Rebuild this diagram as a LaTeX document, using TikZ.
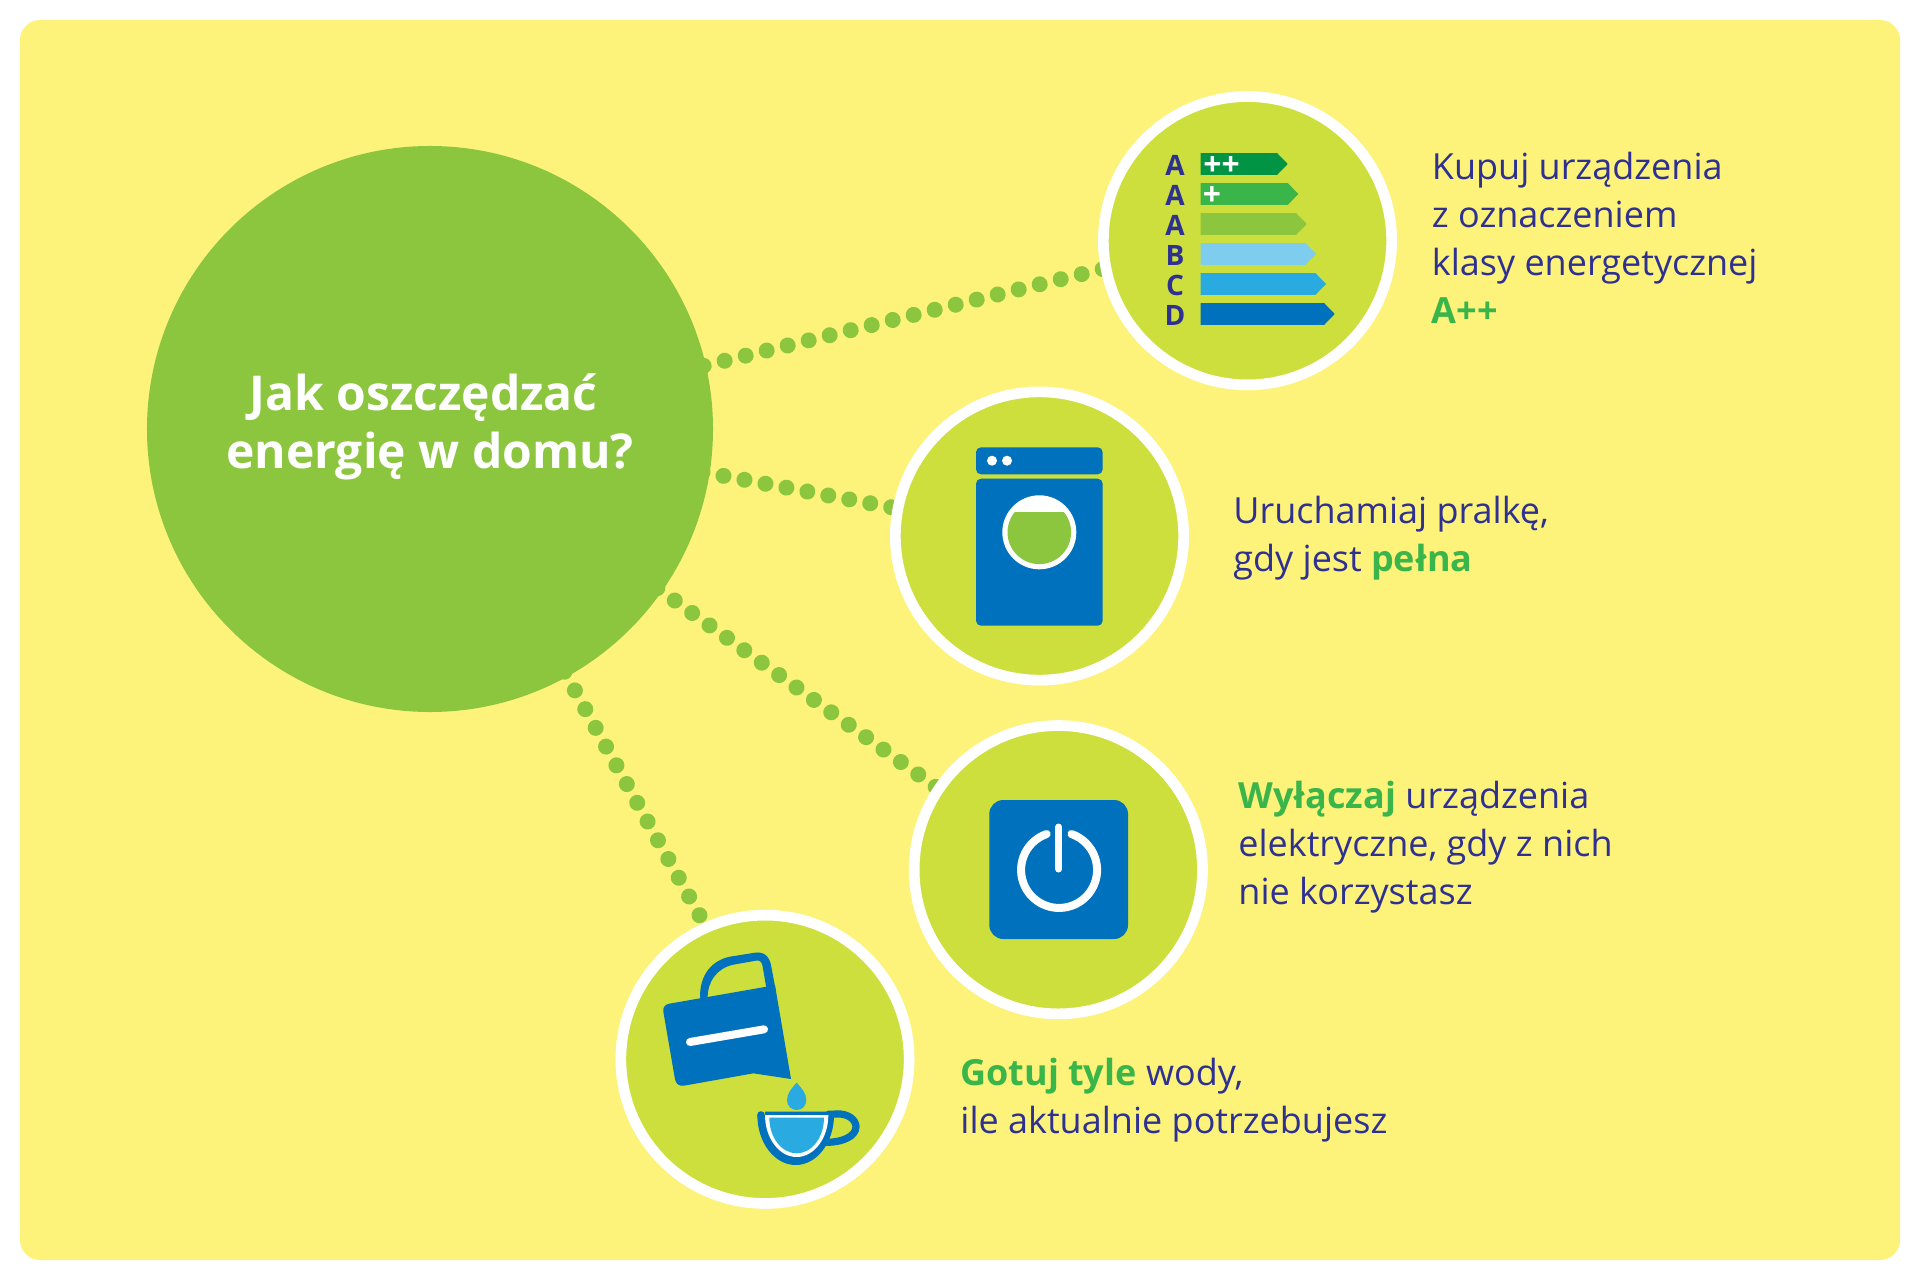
\documentclass[tikz,border=0pt]{standalone}
\usepackage{fontspec}
\setmainfont{Open Sans}
\usetikzlibrary{backgrounds}
\definecolor{bgy}{HTML}{FDF37A}
\definecolor{lime}{HTML}{CDDF3C}
\definecolor{grn}{HTML}{8CC63F}
\definecolor{navy}{HTML}{2E3192}
\definecolor{kw}{HTML}{39B54A}
\definecolor{blu}{HTML}{0071BC}
\definecolor{sky}{HTML}{29ABE2}
\definecolor{pale}{HTML}{7FCDEE}
\definecolor{dgr}{HTML}{009444}
\newcommand{\kwd}[1]{\textcolor{kw}{\bfseries #1}}
\tikzset{
 hub/.style={circle,fill=grn,inner sep=0pt,outer sep=0pt,minimum size=283bp},
 ring/.style={circle,fill=lime,draw=white,line width=5.35bp,inner sep=0pt,outer sep=0pt,minimum size=144.15bp},
 dotline/.style={grn,line width=8bp,line cap=round,shorten <=-4bp,shorten >=-6bp},
 txt/.style={navy,anchor=north west,align=left,inner sep=0pt,font=\fontsize{18.06}{24.1}\selectfont},
 ltr/.style={navy,inner sep=0pt,font=\fontsize{14.1}{14}\selectfont\bfseries},
 plusmark/.style={white,inner sep=0pt,font=\fontsize{16}{16}\selectfont\bfseries},
 icon/.style={fill=blu},
}
\begin{document}
\begin{tikzpicture}[x=0.5bp,y=-0.5bp]
\useasboundingbox (0,0) rectangle (1920,1279);
% nodes
\node[hub] (main) at (430,429) {};
\node[ring] (c1) at (1247.5,240.7) {};
\node[ring] (c2) at (1039.5,536) {};
\node[ring] (c3) at (1058.3,869.7) {};
\node[ring] (c4) at (765,1059.3) {};
\begin{pgfonlayer}{background}
\fill[white] (0,0) rectangle (1920,1279);
\fill[bgy,rounded corners=10bp] (20,20) rectangle (1900,1260);
\draw[dotline,dash pattern=on 0.01bp off 10.795bp,dash phase=7.895bp] (main.13.53) -- (c1.191.1);
\draw[dotline,dash pattern=on 0.01bp off 10.65bp,dash phase=10.2bp] (main.-9.95) -- (c2.169.9);
\draw[dotline,dash pattern=on 0.01bp off 10.675bp,dash phase=9.425bp] (main.-35.2) -- (c3.146);
\draw[dotline,dash pattern=on 0.01bp off 10.7bp,dash phase=9.5bp] (main.-61.04) -- (c4.114.36);
\end{pgfonlayer}
\node[white,inner sep=0pt,align=center,font=\fontsize{24.1}{29.2}\selectfont\bfseries] (title) at (430,426.5)
 {Jak oszczędzać\hspace*{6.5bp}\\energię w domu?};
% energy labels
\foreach \n/\l/\yy/\tip/\c in {a/A/164/1287.7/dgr,b/A/194/1298.3/kw,c/A/224/1306.7/grn,d/B/254/1316/pale,e/C/284/1326/sky,f/D/314/1334.7/blu}{
 \node[ltr] (l\n) at (1175,\yy+1) {\l};
 \fill[\c] (1200.7,\yy-10.8) -- (\tip-10.5,\yy-10.8) -- (\tip,\yy) -- (\tip-10.5,\yy+10.8) -- (1200.7,\yy+10.8) -- cycle;
}
\node[plusmark,anchor=center] (pp) at (1221.5,166) {++};
\node[plusmark,anchor=center] (p) at (1212,196) {+};
% washer
\fill[icon,rounded corners=2.5bp] (976,447.3) rectangle (1102.7,474.3);
\fill[icon,rounded corners=2.5bp] (976,478.7) rectangle (1102.7,625.7);
\fill[white] (992,460.7) circle (2.5bp) (1007,460.7) circle (2.5bp);
\fill[white] (1039.3,532.3) circle (18.5bp);
\begin{scope}
\clip (990,512) rectangle (1090,580);
\fill[grn] (1039.3,532.3) circle (15.9bp);
\end{scope}
% power
\fill[icon,rounded corners=7bp] (989.3,800) rectangle (1128,939);
\draw[white,line width=4bp,line cap=round] (1046.7,834) arc[start angle=109,end angle=431,radius=19bp];
\draw[white,line width=3.5bp,line cap=round] (1058.7,827) -- (1058.7,869);
% jug and cup, in 3x crop units
\begin{scope}[shift={(610,910)},x=0.5bp/3,y=-0.5bp/3]
\fill[icon] (270,265) .. controls (268,190) and (310,150) .. (360,140) -- (435,128) .. controls (462,124) and (478,140) .. (483,165) -- (497,240) -- (470,240) -- (458,170) .. controls (456,156) and (450,150) .. (438,152) -- (370,164) .. controls (320,175) and (292,215) .. (293,265) -- cycle;
\fill[icon] (178,281) -- (470,230) -- (495,226) -- (543,507) -- (430,490) -- (222,527) .. controls (208,529) and (198,522) .. (195,508) -- (160,305) .. controls (158,292) and (165,283) .. (178,281) -- cycle;
\draw[white,line width=4bp,line cap=round] (240,396) -- (462,358);
\fill[sky] (560,518) .. controls (545,535) and (531,550) .. (531,570) .. controls (531,588) and (544,600) .. (560,600) .. controls (576,600) and (589,588) .. (589,570) .. controls (589,550) and (575,535) .. (560,518) -- cycle;
\draw[blu,line width=3.6bp,line cap=round] (655,613) -- (680,612) .. controls (715,610) and (738,630) .. (738,650) .. controls (738,680) and (695,697) .. (650,697);
\fill[blu] (442,615) arc[start angle=180,end angle=0,x radius=115,y radius=150] -- (668,605) -- (465,605) -- (465,615) -- cycle;
\fill[blu] (453,615) circle (1.9bp);
\fill[white] (465,615) arc[start angle=180,end angle=0,x radius=95,y radius=126] -- cycle;
\fill[sky] (478,623) arc[start angle=180,end angle=0,x radius=82,y radius=107] -- cycle;
\end{scope}
% texts
\node[txt] (t1) at (1431.5,152) {Kupuj urządzenia\\z oznaczeniem\\klasy energetycznej\\\kwd{A++}};
\node[txt] (t2) at (1233,495.5) {Uruchamiaj pralkę,\\gdy jest \kwd{pełna}};
\node[txt] (t3) at (1238,780.5) {\kwd{Wyłączaj} urządzenia\\elektryczne, gdy z nich\\nie korzystasz};
\node[txt] (t4) at (960,1057.5) {\kwd{Gotuj tyle} wody,\\ile aktualnie potrzebujesz};
\end{tikzpicture}
\end{document}
